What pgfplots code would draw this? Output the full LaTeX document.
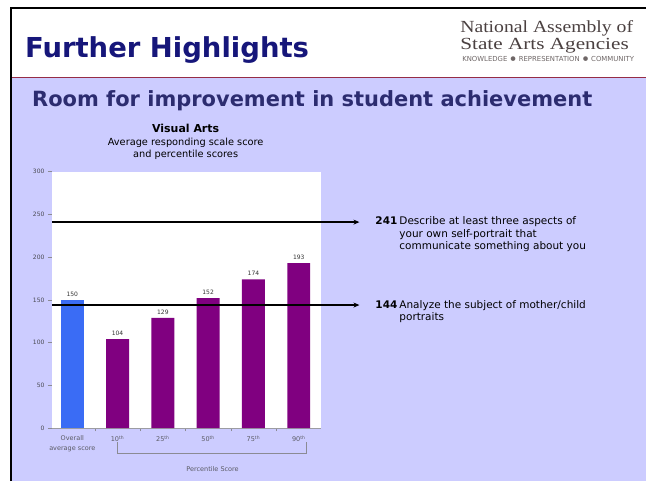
\documentclass[border=0pt]{standalone}
\usepackage{fontspec}
\setmainfont{DejaVu Sans}
\newfontfamily\nasaafont{Liberation Serif}
\usepackage{graphicx}
\usepackage{pgfplots}
\pgfplotsset{compat=1.18}
\usetikzlibrary{arrows.meta}

\definecolor{lav}{RGB}{204,204,255}
\definecolor{navy}{RGB}{22,22,122}
\definecolor{roomc}{RGB}{44,44,112}
\definecolor{barblue}{RGB}{58,108,245}
\definecolor{barpurple}{RGB}{128,0,128}
\definecolor{nasaa}{RGB}{75,65,65}
\definecolor{hdrred}{RGB}{150,45,70}
\definecolor{lblgray}{RGB}{90,90,100}

\begin{document}
\begin{tikzpicture}[x=1pt,y=1pt]
% page and header
\fill[white] (0,0) rectangle (647,482);
\fill[lav] (11,0) rectangle (647,404);
\draw[hdrred, line width=1.6pt] (11,404.5) -- (647,404.5);
\draw[black, line width=2.5pt] (11,0) -- (11,474) -- (647,474);

\node[anchor=base west, inner sep=0, text=navy, font=\bfseries\fontsize{27.5}{30}\selectfont] at (25,424) {Further Highlights};
\node[anchor=base west, inner sep=0, text=nasaa, font=\nasaafont\fontsize{17}{19}\selectfont] at (461,449) {\scalebox{1.16}[1]{National Assembly of}};
\node[anchor=base west, inner sep=0, text=nasaa, font=\nasaafont\fontsize{17}{19}\selectfont] at (461,432) {\scalebox{1.25}[1]{State Arts Agencies}};
\node[anchor=base west, inner sep=0, text=nasaa!80, font=\fontsize{3.6}{4}\selectfont] at (463,420) {\resizebox{172pt}{!}{KNOWLEDGE $\bullet$ REPRESENTATION $\bullet$ COMMUNITY}};

\node[anchor=base west, inner sep=0, text=roomc, font=\bfseries\fontsize{21}{24}\selectfont] at (32,375) {Room for improvement in student achievement};

% chart titles
\node[anchor=base, inner sep=0, font=\bfseries\fontsize{11}{13}\selectfont] at (186,349) {Visual Arts};
\node[anchor=base, inner sep=0, font=\fontsize{9.8}{12}\selectfont] at (186,336) {Average responding scale score};
\node[anchor=base, inner sep=0, font=\fontsize{9.8}{12}\selectfont] at (186,324) {and percentile scores};

\begin{axis}[
    at={(52pt,53pt)}, anchor=south west,
    width=270pt, height=257pt, scale only axis,
    xmin=-0.45, xmax=5.5,
    ymin=0, ymax=300,
    axis background/.style={fill=white},
    axis lines*=left,
    x axis line style={lblgray!60, line width=0.8pt},
    y axis line style={draw=none},
    tick align=outside,
    ytick={0,50,...,300},
    y tick style={lblgray!70, line width=0.6pt},
    major tick length=4pt,
    xtick={0,1,2,3,4,5},
    x tick style={draw=none},
    minor xtick={0.5,1.5,2.5,3.5,4.5},
    minor x tick style={draw=lblgray!70, line width=0.6pt},
    minor tick length=3pt,
    xticklabels={Overall\\average score, 10\textsuperscript{th}, 25\textsuperscript{th}, 50\textsuperscript{th}, 75\textsuperscript{th}, 90\textsuperscript{th}},
    xticklabel style={align=center, font=\fontsize{6.5}{10}\selectfont, text=lblgray},
    yticklabel style={font=\fontsize{6}{6}\selectfont, text=lblgray!80!black},
    /pgf/number format/assume math mode=true,
    clip=false,
    nodes near coords style={font=\fontsize{6}{7}\selectfont, text=black!80},
]
\addplot[ybar, bar width=23pt, bar shift=0pt, fill=barblue, draw=none, nodes near coords] coordinates {(0,150)};
\addplot[ybar, bar width=23pt, bar shift=0pt, fill=barpurple, draw=none, nodes near coords] coordinates {(1,104) (2,129) (3,152) (4,174) (5,193)};
\addplot[black, line width=1.3pt, -{Stealth[length=6pt,width=5pt]}] coordinates {(-0.45,241) (6.34,241)};
\addplot[black, line width=1.3pt, -{Stealth[length=6pt,width=5pt]}] coordinates {(-0.45,144) (6.34,144)};
\end{axis}

% percentile bracket
\draw[lblgray!70, line width=0.6pt] (118,39) -- (118,28) -- (307,28) -- (307,39);
\node[anchor=base, inner sep=0, text=lblgray, font=\fontsize{6.5}{8}\selectfont] at (213,10) {Percentile Score};

% annotations
\node[anchor=base west, inner sep=0, font=\bfseries\fontsize{10.5}{13}\selectfont] at (376,257) {241};
\node[anchor=base west, inner sep=0, font=\fontsize{10.5}{13}\selectfont] at (400,257) {Describe at least three aspects of};
\node[anchor=base west, inner sep=0, font=\fontsize{10.5}{13}\selectfont] at (400,244.5) {your own self-portrait that};
\node[anchor=base west, inner sep=0, font=\fontsize{10.5}{13}\selectfont] at (400,232) {communicate something about you};
\node[anchor=base west, inner sep=0, font=\bfseries\fontsize{10.5}{13}\selectfont] at (376,173) {144};
\node[anchor=base west, inner sep=0, font=\fontsize{10.5}{13}\selectfont] at (400,173) {Analyze the subject of mother/child};
\node[anchor=base west, inner sep=0, font=\fontsize{10.5}{13}\selectfont] at (400,160.5) {portraits};
\end{tikzpicture}
\end{document}
